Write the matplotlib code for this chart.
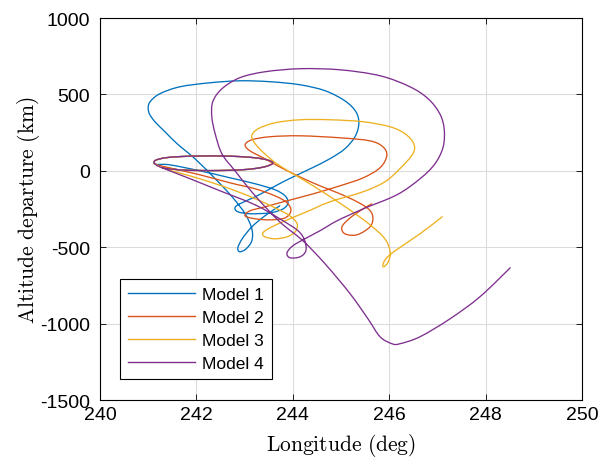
import matplotlib
matplotlib.use("Agg")
import matplotlib.pyplot as plt
from matplotlib.path import Path
from matplotlib.patches import PathPatch
from matplotlib.lines import Line2D

plt.rcParams['font.family'] = ['Liberation Sans', 'DejaVu Sans']
plt.rcParams['mathtext.fontset'] = 'cm'
plt.rcParams['axes.unicode_minus'] = False

# Shared parking-orbit ellipse (longitude deg, altitude departure km)
ellipse_lon = [241.30, 241.66, 242.07, 242.49, 242.90, 243.22, 243.46, 243.59,
               243.46, 243.22, 242.90, 242.49, 242.07, 241.66, 241.35, 241.16, 241.12, 241.16]
ellipse_alt = [18, 6, 2, 2, 6, 15, 30, 52, 72, 85, 93, 97, 97, 93, 85, 70, 55, 42]

m1_lon = [241.45, 242.07, 242.70, 243.22, 243.63, 243.84, 243.90, 243.80, 243.53, 243.11,
          242.86, 242.80, 242.90, 243.22, 243.53, 243.88, 244.36, 244.77, 245.08, 245.29,
          245.37, 245.31, 245.08, 244.67, 244.15, 243.53, 242.90, 242.28, 241.66, 241.24,
          241.04, 241.00, 241.03, 241.14, 241.35, 241.60, 241.97, 242.39, 242.74, 243.01,
          243.15, 243.15, 243.03, 242.90, 242.86, 242.95, 243.15, 243.42, 243.73]
m1_alt = [39, 0, -46, -85, -124, -164, -209, -249, -275, -281,
          -268, -242, -216, -170, -118, -59, 13, 79, 144, 223,
          308, 386, 458, 524, 563, 583, 589, 576, 550, 504,
          452, 410, 370, 321, 255, 177, 79, -52, -170, -281,
          -380, -458, -511, -530, -504, -445, -367, -295, -229]

m2_lon = [241.35, 242.07, 242.70, 243.22, 243.63, 243.88, 243.96, 243.84, 243.53, 243.22,
          243.01, 243.11, 243.42, 243.80, 244.42, 244.98, 245.46, 245.81, 245.95, 245.87,
          245.60, 244.98, 244.15, 243.53, 243.15, 243.01, 243.11, 243.42, 243.84, 244.42,
          245.12, 245.54, 245.66, 245.60, 245.33, 245.08, 245.02, 245.19, 245.46, 245.64]
m2_alt = [26, -26, -79, -118, -164, -209, -262, -308, -321, -314,
          -295, -262, -236, -203, -151, -98, -46, 20, 98, 157,
          196, 216, 229, 223, 203, 170, 131, 79, 7, -79,
          -170, -242, -301, -367, -419, -412, -367, -308, -249, -216]

m3_lon = [241.35, 242.07, 242.70, 243.22, 243.63, 243.94, 244.09, 244.05, 243.88, 243.63,
          243.42, 243.38, 243.53, 243.84, 244.29, 244.77, 245.46, 245.91, 246.22, 246.49,
          246.51, 246.33, 246.02, 245.46, 244.77, 244.15, 243.63, 243.28, 243.15, 243.22,
          243.42, 243.73, 244.42, 245.12, 245.60, 245.91, 246.02, 245.98, 245.89, 245.87,
          245.93, 246.12, 246.64, 247.10]
m3_alt = [13, -52, -118, -183, -242, -295, -347, -399, -432, -445,
          -432, -406, -373, -327, -268, -203, -137, -72, 13, 111,
          177, 242, 288, 321, 334, 334, 314, 275, 229, 177,
          111, 33, -98, -242, -353, -445, -530, -596, -628, -615,
          -576, -524, -412, -301]

m4_lon = [241.24, 241.87, 242.49, 243.22, 243.73, 244.11, 244.25, 244.27, 244.15, 243.94,
          243.88, 244.00, 244.25, 244.56, 244.92, 245.46, 246.16, 246.64, 246.95, 247.12,
          247.14, 247.05, 246.81, 246.43, 245.81, 244.98, 244.15, 243.42, 242.90, 242.53,
          242.34, 242.32, 242.39, 242.53, 242.80, 243.22, 243.73, 244.21, 244.67, 245.19,
          245.56, 245.81, 246.06, 246.22, 246.64, 247.26, 247.88, 248.51]
m4_alt = [26, -52, -131, -223, -314, -393, -458, -524, -563, -569,
          -537, -491, -445, -393, -327, -249, -157, -52, 46, 157,
          275, 373, 471, 550, 622, 661, 668, 648, 609, 537,
          452, 353, 242, 111, 0, -164, -334, -458, -609, -805,
          -969, -1086, -1132, -1132, -1086, -969, -825, -635]

labels = ['Model 1', 'Model 2', 'Model 3', 'Model 4']
colors = ['#0072BD', '#D95319', '#EDB120', '#7E2F8E']
xticks = [240, 242, 244, 246, 248, 250]
yticks = [-1500, -1000, -500, 0, 500, 1000]


def smooth_path(xs, ys):
    """Cubic Bezier path passing through every read point (Catmull-Rom tangents)."""
    pts = list(zip(xs, ys))
    n = len(pts)
    verts = [pts[0]]
    codes = [Path.MOVETO]
    for i in range(n - 1):
        p0 = pts[max(i - 1, 0)]
        p1 = pts[i]
        p2 = pts[i + 1]
        p3 = pts[min(i + 2, n - 1)]
        c1 = (p1[0] + (p2[0] - p0[0]) / 6.0, p1[1] + (p2[1] - p0[1]) / 6.0)
        c2 = (p2[0] - (p3[0] - p1[0]) / 6.0, p2[1] - (p3[1] - p1[1]) / 6.0)
        verts += [c1, c2, p2]
        codes += [Path.CURVE4] * 3
    return Path(verts, codes)


fig = plt.figure(figsize=(5.98, 4.60), dpi=100)
ax = fig.add_axes([100/598, 59/460, 482/598, 382/460])

series = [(m1_lon, m1_alt), (m2_lon, m2_alt), (m3_lon, m3_alt), (m4_lon, m4_alt)]
handles = []
for (lo, al), lab, c in zip(series, labels, colors):
    patch = PathPatch(smooth_path(ellipse_lon + lo, ellipse_alt + al), fill=False,
                      edgecolor=c, lw=0.95, joinstyle='round', capstyle='round', zorder=3)
    ax.add_patch(patch)
    handles.append(Line2D([], [], color=c, lw=1.0, label=lab))

ax.set_xlim(240, 250)
ax.set_ylim(-1500, 1000)
ax.set_xticks(xticks)
ax.set_yticks(yticks)
ax.tick_params(direction='in', length=4, width=0.6, labelsize=14, top=True, right=True,
               colors='black')
ax.tick_params(axis='x', pad=4.5)
ax.tick_params(axis='y', pad=7)
ax.grid(True, color='#dcdcdc', lw=0.8)
ax.set_axisbelow(True)
for s in ax.spines.values():
    s.set_linewidth(0.8)
    s.set_color('black')

ax.set_xlabel(r'$\mathrm{Longitude\ (deg)}$', fontsize=15.5, labelpad=5.5)
ax.set_ylabel(r'$\mathrm{Altitude\ departure\ (km)}$', fontsize=15.5, labelpad=-1.5)

leg = ax.legend(handles=handles, loc='lower left', bbox_to_anchor=(20/482, 21/382),
                borderaxespad=0, fontsize=12.5, handlelength=3.85, fancybox=False,
                framealpha=1, edgecolor='black', labelspacing=0.46, borderpad=0.45,
                handletextpad=0.45)
leg.get_frame().set_linewidth(0.8)

fig.savefig('out.png', dpi=100)
